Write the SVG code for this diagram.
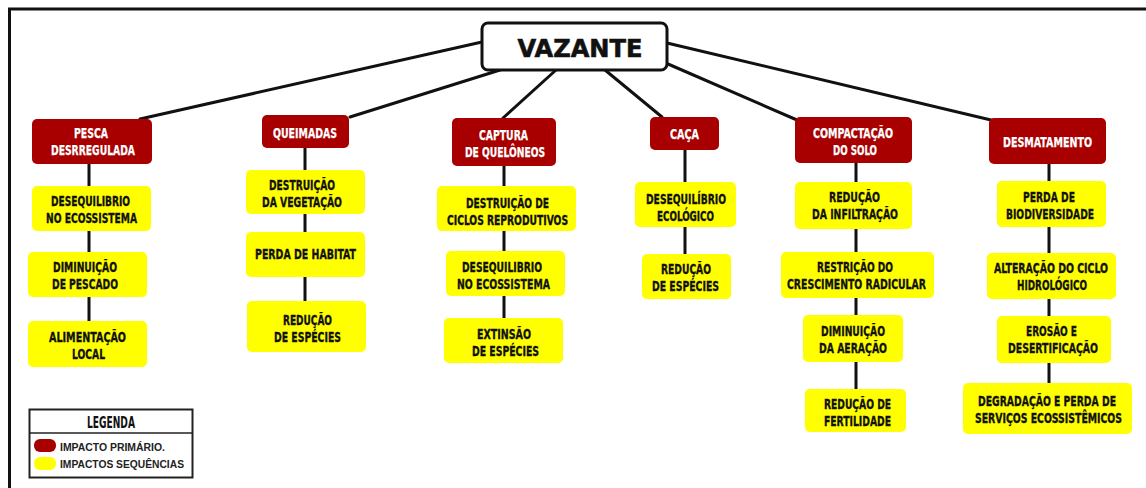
<svg xmlns="http://www.w3.org/2000/svg" width="1146" height="488" viewBox="0 0 1146 488">
<defs>
<style>
.red{fill:#a80000;}
.yel{fill:#ffff00;}
.ln{stroke:#111;stroke-width:3;fill:none;stroke-linecap:round;}
.rt{font-family:"DejaVu Sans Condensed","DejaVu Sans",sans-serif;font-weight:bold;font-size:14.5px;fill:#fff;stroke:#fff;stroke-width:0.25;text-anchor:middle;}
.yt{font-family:"DejaVu Sans Condensed","DejaVu Sans",sans-serif;font-weight:bold;font-size:14.5px;fill:#111;stroke:#111;stroke-width:0.35;text-anchor:middle;}
.lg{font-family:"Liberation Sans",Arial,sans-serif;font-weight:bold;font-size:11px;fill:#222;}
</style>
</defs>
<rect x="0" y="0" width="1146" height="488" fill="#fff"/>
<path d="M9.5 488 V9 H1146" fill="none" stroke="#111" stroke-width="3"/>

<g id="connectors" class="ln">
<line x1="140" y1="119" x2="482" y2="42"/>
<line x1="350" y1="117" x2="500" y2="70"/>
<line x1="503" y1="118" x2="556" y2="70"/>
<line x1="605" y1="70" x2="662" y2="117"/>
<line x1="668" y1="64" x2="797" y2="120"/>
<line x1="667" y1="43" x2="991" y2="120"/>
<line x1="89" y1="164" x2="89" y2="321"/>
<line x1="305" y1="148" x2="305" y2="301"/>
<line x1="504" y1="166" x2="504" y2="318"/>
<line x1="685" y1="150" x2="685" y2="254"/>
<line x1="856" y1="163" x2="856" y2="389"/>
<line x1="1049" y1="164" x2="1049" y2="383"/>
</g>

<g id="vazante">
<rect x="482" y="23" width="185" height="47" rx="6" fill="#fff" stroke="#111" stroke-width="3"/>
<text x="580" y="57" font-family="DejaVu Sans,sans-serif" font-weight="bold" font-size="24" fill="#111" stroke="#111" stroke-width="0.6" text-anchor="middle" textLength="125" lengthAdjust="spacingAndGlyphs">VAZANTE</text>
</g>

<g id="pesca">
<rect class="red" x="32" y="119" width="120" height="45" rx="5"/>
<text class="rt" x="91" y="138" textLength="34" lengthAdjust="spacingAndGlyphs">PESCA</text>
<text class="rt" x="93" y="155" textLength="84" lengthAdjust="spacingAndGlyphs">DESRREGULADA</text>
</g>
<g id="queimadas">
<rect class="red" x="262" y="115" width="87" height="33" rx="5"/>
<text class="rt" x="305" y="137.5" textLength="64" lengthAdjust="spacingAndGlyphs">QUEIMADAS</text>
</g>
<g id="captura">
<rect class="red" x="452" y="118" width="104" height="48" rx="5"/>
<text class="rt" x="503.5" y="139.5" textLength="49" lengthAdjust="spacingAndGlyphs">CAPTURA</text>
<text class="rt" x="505" y="156.5" textLength="80" lengthAdjust="spacingAndGlyphs">DE QUELÔNEOS</text>
</g>
<g id="caca">
<rect class="red" x="650" y="117" width="69" height="33" rx="5"/>
<text class="rt" x="684.5" y="138.5" textLength="29" lengthAdjust="spacingAndGlyphs">CAÇA</text>
</g>
<g id="compactacao">
<rect class="red" x="795" y="117" width="117" height="46" rx="5"/>
<text class="rt" x="853" y="138" textLength="80" lengthAdjust="spacingAndGlyphs">COMPACTAÇÃO</text>
<text class="rt" x="855" y="155" textLength="44" lengthAdjust="spacingAndGlyphs">DO SOLO</text>
</g>
<g id="desmatamento">
<rect class="red" x="989" y="118" width="117" height="46" rx="5"/>
<text class="rt" x="1047.5" y="146.5" textLength="89" lengthAdjust="spacingAndGlyphs">DESMATAMENTO</text>
</g>

<g id="c1n1">
<rect class="yel" x="32" y="186" width="119" height="45" rx="5"/>
<text class="yt" x="90.5" y="205.5" textLength="79" lengthAdjust="spacingAndGlyphs">DESEQUILIBRIO</text>
<text class="yt" x="91.5" y="222.5" textLength="91" lengthAdjust="spacingAndGlyphs">NO ECOSSISTEMA</text>
</g>
<g id="c1n2">
<rect class="yel" x="28" y="252" width="119" height="45" rx="5"/>
<text class="yt" x="85" y="272" textLength="64" lengthAdjust="spacingAndGlyphs">DIMINUIÇÃO</text>
<text class="yt" x="85" y="289" textLength="66" lengthAdjust="spacingAndGlyphs">DE PESCADO</text>
</g>
<g id="c1n3">
<rect class="yel" x="28" y="321" width="119" height="46" rx="5"/>
<text class="yt" x="87.5" y="342" textLength="77" lengthAdjust="spacingAndGlyphs">ALIMENTAÇÃO</text>
<text class="yt" x="88.5" y="359" textLength="33" lengthAdjust="spacingAndGlyphs">LOCAL</text>
</g>

<g id="c2n1">
<rect class="yel" x="246" y="170" width="119" height="44" rx="5"/>
<text class="yt" x="302" y="190" textLength="66" lengthAdjust="spacingAndGlyphs">DESTRUIÇÃO</text>
<text class="yt" x="302" y="207" textLength="80" lengthAdjust="spacingAndGlyphs">DA VEGETAÇÃO</text>
</g>
<g id="c2n2">
<rect class="yel" x="246" y="232" width="119" height="45" rx="5"/>
<text class="yt" x="305.5" y="259" textLength="101" lengthAdjust="spacingAndGlyphs">PERDA DE HABITAT</text>
</g>
<g id="c2n3">
<rect class="yel" x="247" y="301" width="119" height="51" rx="5"/>
<text class="yt" x="307.5" y="324.5" textLength="49" lengthAdjust="spacingAndGlyphs">REDUÇÃO</text>
<text class="yt" x="307.5" y="341.5" textLength="67" lengthAdjust="spacingAndGlyphs">DE ESPÉCIES</text>
</g>

<g id="c3n1">
<rect class="yel" x="437" y="186" width="139" height="45" rx="5"/>
<text class="yt" x="507.5" y="207.5" textLength="83" lengthAdjust="spacingAndGlyphs">DESTRUIÇÃO DE</text>
<text class="yt" x="507.5" y="224.5" textLength="121" lengthAdjust="spacingAndGlyphs">CICLOS REPRODUTIVOS</text>
</g>
<g id="c3n2">
<rect class="yel" x="446" y="251" width="119" height="45" rx="5"/>
<text class="yt" x="502" y="271.5" textLength="80" lengthAdjust="spacingAndGlyphs">DESEQUILIBRIO</text>
<text class="yt" x="503.5" y="288.5" textLength="93" lengthAdjust="spacingAndGlyphs">NO ECOSSISTEMA</text>
</g>
<g id="c3n3">
<rect class="yel" x="444" y="318" width="119" height="45" rx="5"/>
<text class="yt" x="504" y="338.5" textLength="54" lengthAdjust="spacingAndGlyphs">EXTINSÃO</text>
<text class="yt" x="505.5" y="355.5" textLength="67" lengthAdjust="spacingAndGlyphs">DE ESPÉCIES</text>
</g>

<g id="c4n1">
<rect class="yel" x="635" y="182" width="101" height="45" rx="5"/>
<text class="yt" x="686" y="203.5" textLength="80" lengthAdjust="spacingAndGlyphs">DESEQUILÍBRIO</text>
<text class="yt" x="685.5" y="220.5" textLength="57" lengthAdjust="spacingAndGlyphs">ECOLÓGICO</text>
</g>
<g id="c4n2">
<rect class="yel" x="642" y="254" width="89" height="45" rx="5"/>
<text class="yt" x="686" y="273.5" textLength="50" lengthAdjust="spacingAndGlyphs">REDUÇÃO</text>
<text class="yt" x="685.5" y="290.5" textLength="67" lengthAdjust="spacingAndGlyphs">DE ESPÉCIES</text>
</g>

<g id="c5n1">
<rect class="yel" x="795" y="182" width="117" height="47" rx="5"/>
<text class="yt" x="854.5" y="202" textLength="51" lengthAdjust="spacingAndGlyphs">REDUÇÃO</text>
<text class="yt" x="855" y="219" textLength="86" lengthAdjust="spacingAndGlyphs">DA INFILTRAÇÃO</text>
</g>
<g id="c5n2">
<rect class="yel" x="781" y="252" width="153" height="46" rx="5"/>
<text class="yt" x="855" y="271.5" textLength="76" lengthAdjust="spacingAndGlyphs">RESTRIÇÃO DO</text>
<text class="yt" x="856.5" y="288.5" textLength="139" lengthAdjust="spacingAndGlyphs">CRESCIMENTO RADICULAR</text>
</g>
<g id="c5n3">
<rect class="yel" x="803" y="315" width="100" height="47" rx="5"/>
<text class="yt" x="853" y="336" textLength="64" lengthAdjust="spacingAndGlyphs">DIMINUIÇÃO</text>
<text class="yt" x="853" y="353" textLength="68" lengthAdjust="spacingAndGlyphs">DA AERAÇÃO</text>
</g>
<g id="c5n4">
<rect class="yel" x="805" y="389" width="101" height="43" rx="5"/>
<text class="yt" x="857.5" y="409" textLength="67" lengthAdjust="spacingAndGlyphs">REDUÇÃO DE</text>
<text class="yt" x="857.5" y="426" textLength="67" lengthAdjust="spacingAndGlyphs">FERTILIDADE</text>
</g>

<g id="c6n1">
<rect class="yel" x="997" y="181" width="109" height="46" rx="5"/>
<text class="yt" x="1049" y="201.5" textLength="52" lengthAdjust="spacingAndGlyphs">PERDA DE</text>
<text class="yt" x="1050" y="218.5" textLength="88" lengthAdjust="spacingAndGlyphs">BIODIVERSIDADE</text>
</g>
<g id="c6n2">
<rect class="yel" x="987" y="253" width="129" height="46" rx="5"/>
<text class="yt" transform="translate(1051 272.5) scale(0.7 1)" x="0" y="0" textLength="162.9" lengthAdjust="spacingAndGlyphs">ALTERAÇÃO DO CICLO</text>
<text class="yt" x="1052" y="289.5" textLength="70" lengthAdjust="spacingAndGlyphs">HIDROLÓGICO</text>
</g>
<g id="c6n3">
<rect class="yel" x="997" y="316" width="114" height="47" rx="5"/>
<text class="yt" x="1051.5" y="336" textLength="51" lengthAdjust="spacingAndGlyphs">EROSÃO E</text>
<text class="yt" x="1053" y="353" textLength="90" lengthAdjust="spacingAndGlyphs">DESERTIFICAÇÃO</text>
</g>
<g id="c6n4">
<rect class="yel" x="963" y="383" width="169" height="51" rx="5"/>
<text class="yt" transform="translate(1047 405.5) scale(0.7 1)" x="0" y="0" textLength="197.1" lengthAdjust="spacingAndGlyphs">DEGRADAÇÃO E PERDA DE</text>
<text class="yt" transform="translate(1048.5 422.5) scale(0.7 1)" x="0" y="0" textLength="210" lengthAdjust="spacingAndGlyphs">SERVIÇOS ECOSSISTÊMICOS</text>
</g>

<g id="legenda">
<rect x="29.5" y="409.5" width="163" height="68" fill="#fff" stroke="#222" stroke-width="2"/>
<line x1="29.5" y1="433" x2="192.5" y2="433" stroke="#222" stroke-width="1.5"/>
<text x="111" y="428" font-family="DejaVu Sans Condensed,DejaVu Sans,sans-serif" font-weight="bold" font-size="15" fill="#111" text-anchor="middle" textLength="48" lengthAdjust="spacingAndGlyphs">LEGENDA</text>
<rect class="red" x="34" y="439" width="22" height="13" rx="6"/>
<rect class="yel" x="34" y="457" width="22" height="13" rx="6"/>
<text class="lg" x="60" y="451" textLength="105" lengthAdjust="spacingAndGlyphs">IMPACTO PRIMÁRIO.</text>
<text class="lg" x="60" y="468" textLength="124" lengthAdjust="spacingAndGlyphs">IMPACTOS SEQUÊNCIAS</text>
</g>
</svg>
